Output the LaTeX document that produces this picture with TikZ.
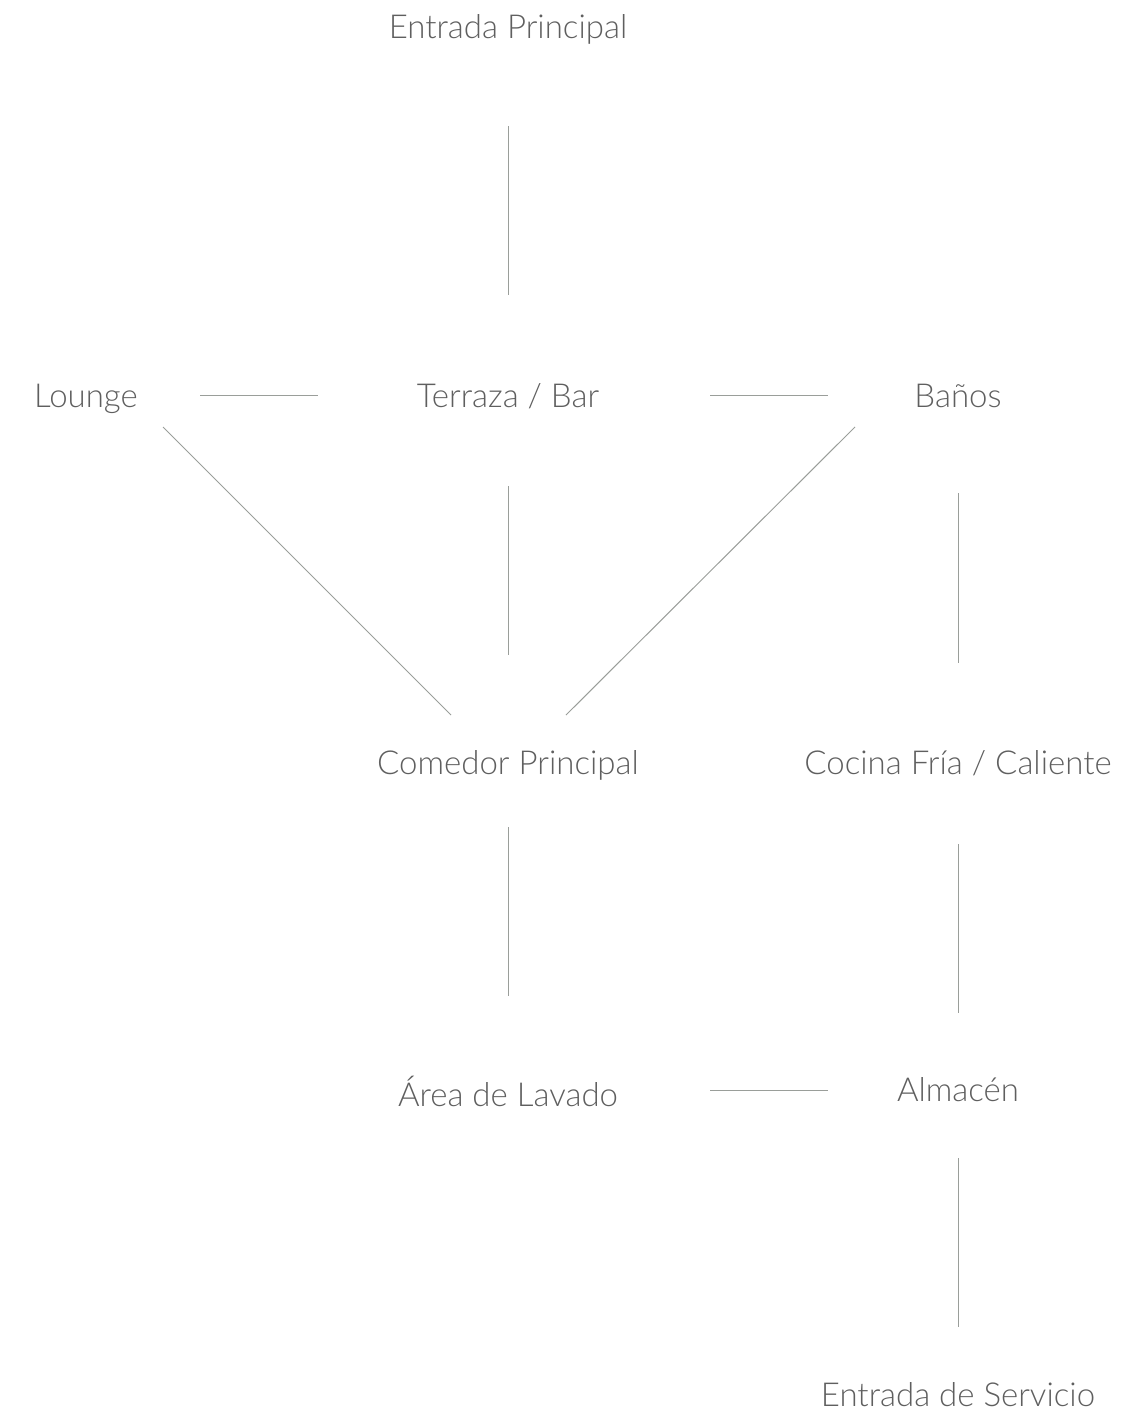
\documentclass[tikz,border=0pt]{standalone}
\usepackage{fontspec}
\setmainfont{Lato}[UprightFont=* Light]
\usetikzlibrary{calc}
\definecolor{labelgray}{HTML}{5F5F5F}
\definecolor{linegray}{HTML}{9A9E9A}
\tikzset{
	room/.style={text=labelgray,font=\fontsize{33}{38}\selectfont,inner sep=0pt,anchor=base},
	link/.style={draw=linegray,line width=1pt}
}
\begin{document}
\begin{tikzpicture}[x=1pt,y=-1pt]
	\useasboundingbox (0,0) rectangle (1138,1416);
	% rooms
	\node[room] (entrada) at (508,38) {Entrada Principal};
	\node[room] (lounge) at (86,407) {Lounge};
	\node[room] (terraza) at (508,407) {Terraza / Bar};
	\node[room] (banos) at (958,407) {Baños};
	\node[room] (comedor) at (508,774) {Comedor Principal};
	\node[room] (cocina) at (958,774) {Cocina Fría / Caliente};
	\node[room] (lavado) at (508,1106) {Área de Lavado};
	\node[room] (almacen) at (958,1101) {Almacén};
	\node[room] (servicio) at (958,1406) {Entrada de Servicio};
	% links
	\draw[link] ($(entrada.base)+(0,88)$) -- ($(terraza.base)+(0,-112)$);
	\draw[link] ($(lounge.base)+(114,-12)$) -- ($(terraza.base)+(-190,-12)$);
	\draw[link] ($(terraza.base)+(202,-12)$) -- ($(banos.base)+(-130,-12)$);
	\draw[link] ($(lounge.base)+(77,20)$) -- ($(comedor.base)+(-57,-59)$);
	\draw[link] ($(terraza.base)+(0,79)$) -- ($(comedor.base)+(0,-119)$);
	\draw[link] ($(banos.base)+(-103,20)$) -- ($(comedor.base)+(58,-59)$);
	\draw[link] ($(banos.base)+(0,86)$) -- ($(cocina.base)+(0,-111)$);
	\draw[link] ($(comedor.base)+(0,53)$) -- ($(lavado.base)+(0,-110)$);
	\draw[link] ($(cocina.base)+(0,70)$) -- ($(almacen.base)+(0,-88)$);
	\draw[link] ($(lavado.base)+(202,-16)$) -- ($(almacen.base)+(-130,-11)$);
	\draw[link] ($(almacen.base)+(0,57)$) -- ($(servicio.base)+(0,-79)$);
\end{tikzpicture}
\end{document}
